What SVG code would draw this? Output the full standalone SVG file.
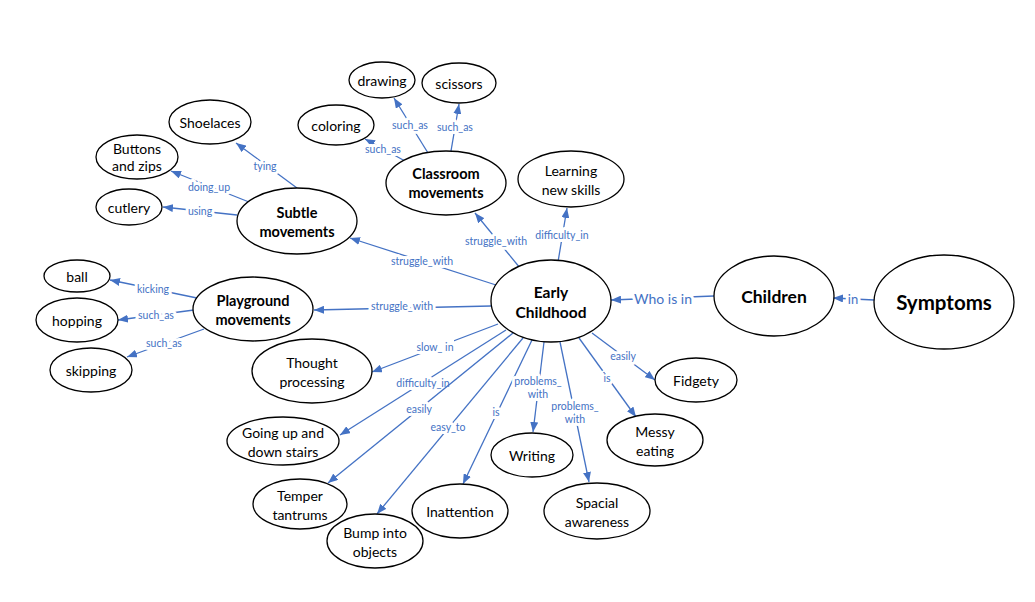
<svg xmlns="http://www.w3.org/2000/svg" width="1035" height="602" viewBox="0 0 1035 602">
<style>
.n ellipse{fill:#fff;stroke:#000;stroke-width:1.3}
.n text{font-family:Lato,"Liberation Sans",sans-serif;font-size:14px;fill:#000;text-anchor:middle;dominant-baseline:central}
.n text.b{font-weight:bold;font-size:14.5px}
.e line{stroke:#4472C4;stroke-width:1.3;marker-end:url(#ah)}
.e text{font-family:Lato,"Liberation Sans",sans-serif;font-size:10.5px;fill:#4472C4;text-anchor:middle;dominant-baseline:central;paint-order:stroke;stroke:#fff;stroke-width:6px;stroke-linejoin:round}
</style>
<defs>
<marker id="ah" viewBox="0 0 10 8" refX="10" refY="4" markerWidth="10" markerHeight="8" markerUnits="userSpaceOnUse" orient="auto">
<path d="M0,0 L10,4 L0,8 z" fill="#4472C4"/>
</marker>
</defs>
<rect width="1035" height="602" fill="#fff"/>
<g id="connectors" class="e">
<line x1="520" y1="268" x2="475" y2="213"/><text x="496" y="241">struggle_with</text>
<line x1="558" y1="262" x2="567" y2="208"/><text x="562" y="235">difficulty_in</text>
<line x1="496" y1="285" x2="350" y2="238"/><text x="422" y="261">struggle_with</text>
<line x1="491" y1="306" x2="314" y2="310"/><text x="402" y="306">struggle_with</text>
<line x1="297" y1="188" x2="236" y2="143"/><text x="265" y="166">tying</text>
<line x1="249" y1="202" x2="171" y2="171"/><text x="209" y="187">doing_up</text>
<line x1="237" y1="215" x2="163" y2="207"/><text x="200" y="211">using</text>
<line x1="405" y1="161" x2="365" y2="139"/><text x="383" y="149">such_as</text>
<line x1="428" y1="153" x2="394" y2="98"/><text x="410" y="125">such_as</text>
<line x1="451" y1="151" x2="459" y2="104"/><text x="455" y="127">such_as</text>
<line x1="197" y1="298" x2="110" y2="280"/><text x="153" y="289">kicking</text>
<line x1="194" y1="310" x2="118" y2="320"/><text x="156" y="315">such_as</text>
<line x1="204" y1="329" x2="127" y2="357"/><text x="164" y="343">such_as</text>
<line x1="498" y1="324" x2="372" y2="372"/><rect x="416" y="340" width="38" height="14" fill="#fff"/><text x="435" y="347">slow_ in</text>
<line x1="506" y1="330" x2="340" y2="435"/><text x="423" y="383">difficulty_in</text>
<line x1="513" y1="333" x2="328" y2="483"/><text x="419" y="409">easily</text>
<line x1="523" y1="338" x2="377" y2="514"/><text x="448" y="427">easy_to</text>
<line x1="532" y1="340" x2="463" y2="484"/><text x="496" y="412">is</text>
<line x1="544" y1="342" x2="533" y2="432"/><text x="538" y="381">problems_</text><text x="538" y="394">with</text>
<line x1="560" y1="342" x2="589" y2="482"/><text x="575" y="406">problems_</text><text x="575" y="419">with</text>
<line x1="579" y1="338" x2="636" y2="417"/><text x="607" y="378">is</text>
<line x1="592" y1="333" x2="655" y2="380"/><text x="623" y="356">easily</text>
<line x1="714" y1="296" x2="611" y2="300"/><text x="663" y="298" style="font-size:14px">Who is in</text>
<line x1="874" y1="300" x2="833" y2="298"/><text x="853" y="299" style="font-size:13px">in</text>
</g>
<g id="drawing" class="n"><ellipse cx="382" cy="80" rx="33" ry="18"/><text x="382" y="80">drawing</text></g>
<g id="scissors" class="n"><ellipse cx="459" cy="83" rx="37" ry="20"/><text x="459" y="83">scissors</text></g>
<g id="coloring" class="n"><ellipse cx="336" cy="125" rx="38" ry="20"/><text x="336" y="125">coloring</text></g>
<g id="classroom" class="n"><ellipse cx="446" cy="183" rx="60" ry="32"/><text class="b" x="446" y="173">Classroom</text><text class="b" x="446" y="192">movements</text></g>
<g id="learning" class="n"><ellipse cx="571" cy="179" rx="53" ry="28"/><text x="571" y="170">Learning</text><text x="571" y="189">new skills</text></g>
<g id="shoelaces" class="n"><ellipse cx="210" cy="122" rx="41" ry="22"/><text x="210" y="122">Shoelaces</text></g>
<g id="buttons" class="n"><ellipse cx="137" cy="157" rx="41" ry="22"/><text x="137" y="148">Buttons</text><text x="137" y="165">and zips</text></g>
<g id="cutlery" class="n"><ellipse cx="129" cy="207" rx="33" ry="18"/><text x="129" y="207">cutlery</text></g>
<g id="subtle" class="n"><ellipse cx="297" cy="221" rx="60" ry="33"/><text class="b" x="297" y="212">Subtle</text><text class="b" x="297" y="231">movements</text></g>
<g id="ball" class="n"><ellipse cx="77" cy="276" rx="33" ry="16"/><text x="77" y="276">ball</text></g>
<g id="hopping" class="n"><ellipse cx="77" cy="320" rx="41" ry="22"/><text x="77" y="320">hopping</text></g>
<g id="skipping" class="n"><ellipse cx="91" cy="370" rx="41" ry="22"/><text x="91" y="370">skipping</text></g>
<g id="playground" class="n"><ellipse cx="253" cy="309" rx="60" ry="32"/><text class="b" x="253" y="300">Playground</text><text class="b" x="253" y="319">movements</text></g>
<g id="thought" class="n"><ellipse cx="312" cy="371" rx="60" ry="32"/><text x="312" y="362">Thought</text><text x="312" y="381">processing</text></g>
<g id="stairs" class="n"><ellipse cx="283" cy="441" rx="56" ry="24"/><text x="283" y="432">Going up and</text><text x="283" y="451">down stairs</text></g>
<g id="temper" class="n"><ellipse cx="300" cy="504" rx="47" ry="25"/><text x="300" y="495">Temper</text><text x="300" y="514">tantrums</text></g>
<g id="bump" class="n"><ellipse cx="375" cy="541" rx="48" ry="27"/><text x="375" y="532">Bump into</text><text x="375" y="551">objects</text></g>
<g id="inattention" class="n"><ellipse cx="460" cy="511" rx="48" ry="27"/><text x="460" y="511">Inattention</text></g>
<g id="writing" class="n"><ellipse cx="532" cy="455" rx="41" ry="22"/><text x="532" y="455">Writing</text></g>
<g id="spacial" class="n"><ellipse cx="597" cy="511" rx="53" ry="28"/><text x="597" y="502">Spacial</text><text x="597" y="521">awareness</text></g>
<g id="messy" class="n"><ellipse cx="655" cy="440" rx="48" ry="26"/><text x="655" y="431">Messy</text><text x="655" y="450">eating</text></g>
<g id="fidgety" class="n"><ellipse cx="696" cy="380" rx="41" ry="22"/><text x="696" y="380">Fidgety</text></g>
<g id="early" class="n"><ellipse cx="551" cy="301" rx="60" ry="41"/><text class="b" x="551" y="292" style="font-size:15.5px">Early</text><text class="b" x="551" y="312" style="font-size:15.5px">Childhood</text></g>
<g id="children" class="n"><ellipse cx="774" cy="296" rx="60" ry="40"/><text class="b" x="774" y="296" style="font-size:17.5px">Children</text></g>
<g id="symptoms" class="n"><ellipse cx="944" cy="302" rx="70" ry="47"/><text class="b" x="944" y="302" style="font-size:20.5px">Symptoms</text></g>
</svg>
